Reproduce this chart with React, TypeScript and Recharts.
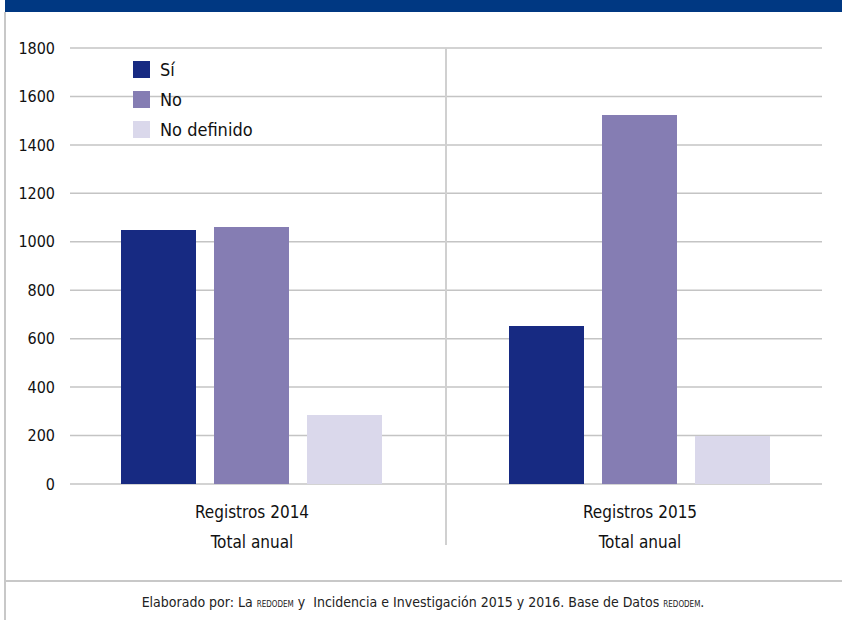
import { BarChart, Bar, XAxis, YAxis, CartesianGrid, ReferenceLine } from "recharts";

const categories = ["Registros 2014", "Registros 2015"];
const subLabels = ["Total anual", "Total anual"];
const si = [1049, 652];
const no = [1061, 1523];
const noDefinido = [285, 198];
const yTicks = [0, 200, 400, 600, 800, 1000, 1200, 1400, 1600, 1800];

const series = [
  { key: "si", label: "Sí", color: "#172a82" },
  { key: "no", label: "No", color: "#857db3" },
  { key: "noDefinido", label: "No definido", color: "#dad8eb" },
];

const data = categories.map((c, i) => ({
  name: c,
  sub: subLabels[i],
  idx: i + 0.5,
  si: si[i],
  no: no[i],
  noDefinido: noDefinido[i],
}));

const FONT = "'Liberation Sans Narrow', 'DejaVu Sans Condensed', 'Noto Sans', sans-serif";

function CategoryTick(props: any) {
  const { x, y, payload, index } = props;
  return (
    <g>
      <text x={x} y={y + 26} textAnchor="middle" fontSize={17} fill="#111" fontFamily={FONT}>
        {payload.value}
      </text>
      <text x={x} y={y + 56} textAnchor="middle" fontSize={17} fill="#111" fontFamily={FONT}>
        {subLabels[index]}
      </text>
    </g>
  );
}

function LegendBox() {
  return (
    <div style={{ position: "absolute", left: 133, top: 54, fontFamily: FONT }}>
      {series.map((s) => (
        <div key={s.key} style={{ display: "flex", alignItems: "center", height: 30 }}>
          <div style={{ width: 17, height: 17, background: s.color, marginRight: 10 }} />
          <span style={{ fontSize: 18, color: "#111" }}>{s.label}</span>
        </div>
      ))}
    </div>
  );
}

// category divider, runs down into the tick label area
function Separator(props: any) {
  const { x1, y1, x2, y2 } = props;
  const top = Math.min(y1, y2);
  const bottom = Math.max(y1, y2);
  return <line x1={x1} y1={top} x2={x2} y2={bottom + 61} stroke="#d0d0d0" strokeWidth={2} />;
}

export default function App() {
  return (
    <div style={{ position: "absolute", left: 0, top: 0, width: 842, height: 620, background: "#fff", overflow: "hidden" }}>
      <div style={{ position: "absolute", left: 5, top: 0, width: 837, height: 12, background: "#003882" }} />
      <div style={{ position: "absolute", left: 4, top: 12, width: 2, height: 608, background: "#c8c8c8" }} />
      <div style={{ position: "absolute", left: 4, top: 580, width: 838, height: 2, background: "#c8c8c8" }} />
      <div
        style={{
          position: "absolute",
          left: 4,
          top: 594,
          width: 838,
          textAlign: "center",
          fontFamily: FONT,
          fontSize: 14,
          color: "#222",
        }}
      >
        Elaborado por: La <span style={{ fontVariant: "small-caps", fontSize: 11 }}>redodem</span> y&nbsp; Incidencia e
        Investigación 2015 y 2016. Base de Datos <span style={{ fontVariant: "small-caps", fontSize: 11 }}>redodem</span>.
      </div>
      <div style={{ position: "absolute", left: 0, top: 0 }}>
        <BarChart
          width={842}
          height={580}
          data={data}
          margin={{ top: 48, right: 20, left: 0, bottom: 20 }}
          barCategoryGap={63}
          barGap={18}
        >
          <CartesianGrid vertical={false} stroke="#c4c4c4" strokeWidth={1.5} />
          <XAxis
            dataKey="name"
            xAxisId="cat"
            height={76}
            axisLine={false}
            tickLine={false}
            tick={<CategoryTick />}
            interval={0}
            padding={{ left: -12, right: -12 }}
          />
          <XAxis xAxisId="sep" type="number" dataKey="idx" domain={[0, 2]} hide />
          <YAxis
            width={70}
            domain={[0, 1800]}
            ticks={yTicks}
            axisLine={false}
            tickLine={false}
            tickMargin={9}
            tick={{ fontSize: 16, fill: "#111", fontFamily: FONT }}
          />
          <ReferenceLine x={1} xAxisId="sep" shape={<Separator />} ifOverflow="visible" />
          {series.map((s) => (
            <Bar key={s.key} dataKey={s.key} xAxisId="cat" fill={s.color} isAnimationActive={false} />
          ))}
        </BarChart>
      </div>
      <LegendBox />
    </div>
  );
}
